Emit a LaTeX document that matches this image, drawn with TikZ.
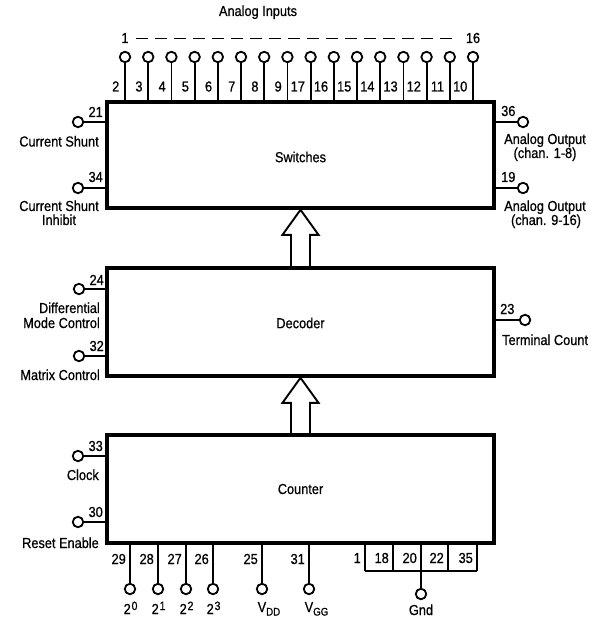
\documentclass[tikz,border=0pt]{standalone}
\usepackage{fontspec}
\setmainfont{Liberation Sans}[FakeStretch=0.88,FakeBold=0.7]
\usetikzlibrary{calc}
\begin{document}
\begin{tikzpicture}[x=1pt,y=-1pt,
  every node/.style={font=\fontsize{14.5}{16}\selectfont, inner sep=0pt},
  blk/.style={draw, line width=3.6pt, minimum width=387pt},
  pin/.style={circle, draw, line width=1.8pt, minimum size=10.5pt, inner sep=0pt},
  wire/.style={line width=1.8pt},
  hollow/.style={line width=1.9pt, line join=miter},
  num/.style={anchor=base east},
  txt/.style={anchor=base},
]
\useasboundingbox (0,0) rectangle (607,620);

% blocks
\node[blk, minimum height=106pt] (sw) at (300.5,155) {};
\node at (300.5,157) {Switches};
\node[blk, minimum height=108pt] (dec) at (300.5,322) {};
\node at (300.5,323) {Decoder};
\node[blk, minimum height=108pt] (cnt) at (300.5,489) {};
\node at (300.5,489) {Counter};

% hollow arrows
\draw[hollow] ($(sw.south)+(-9.5,60)$) -- ($(sw.south)+(-9.5,25)$) -- ($(sw.south)+(-18,25)$)
  -- (sw.south) -- ($(sw.south)+(18,25)$) -- ($(sw.south)+(9.5,25)$) -- ($(sw.south)+(9.5,60)$);
\draw[hollow] ($(dec.south)+(-9.5,59)$) -- ($(dec.south)+(-9.5,25)$) -- ($(dec.south)+(-18,25)$)
  -- (dec.south) -- ($(dec.south)+(18,25)$) -- ($(dec.south)+(9.5,25)$) -- ($(dec.south)+(9.5,59)$);

% analog inputs
\node[txt] (ai) at (258,16) {Analog Inputs};
\node[txt] (one) at (125,43) {1};
\node[txt] (sixteen) at (473,43) {16};
\draw[line width=1.8pt, dash pattern=on 12pt off 7pt] ($(one.base east)+(7,-4.5)$) -- ($(sixteen.base west)+(-7,-4.5)$);
\foreach \n [count=\i from 0] in {2,3,4,5,6,7,8,9,17,16,15,14,13,12,11,10}{
  \pgfmathsetmacro{\xx}{125+23.2*\i}
  \node[pin] (in\i) at (\xx,57) {};
  \draw[wire] (in\i.south) -- (in\i.south |- sw.north);
  \node[num] at (\xx-5.5,91.5) {\n};
}

% switches left
\node[pin] (p21) at (78,122) {};
\draw[wire] (p21.east) -- (p21.east -| sw.west);
\node[num] at (103,117) {21};
\node[txt] at (59,146.5) {Current Shunt};
\node[pin] (p34) at (78,188) {};
\draw[wire] (p34.east) -- (p34.east -| sw.west);
\node[num] at (103,182) {34};
\node[txt] at (59,211) {Current Shunt};
\node[txt] at (59,225) {Inhibit};

% switches right
\node[pin] (p36) at (523,122) {};
\draw[wire] (p36.west) -- (p36.west -| sw.east);
\node[anchor=base west] at (501,116) {36};
\node[txt] at (545,144) {Analog Output};
\node[txt] at (545,158) {(chan. 1-8)};
\node[pin] (p19) at (523,188) {};
\draw[wire] (p19.west) -- (p19.west -| sw.east);
\node[anchor=base west] at (501,182) {19};
\node[txt] at (545,211) {Analog Output};
\node[txt] at (546,225) {(chan. 9-16)};

% decoder left
\node[pin] (p24) at (79,289) {};
\draw[wire] (p24.east) -- (p24.east -| dec.west);
\node[num] at (104,285) {24};
\node[anchor=base east] at (100,313) {Differential};
\node[anchor=base east] at (100,328) {Mode Control};
\node[pin] (p32) at (79,356) {};
\draw[wire] (p32.east) -- (p32.east -| dec.west);
\node[num] at (104,351) {32};
\node[anchor=base east] at (100,380) {Matrix Control};

% decoder right
\node[pin] (p23) at (525,320) {};
\draw[wire] (p23.west) -- (p23.west -| dec.east);
\node[anchor=base west] at (500,314) {23};
\node[anchor=base west] at (502,345) {Terminal Count};

% counter left
\node[pin] (p33) at (78,456) {};
\draw[wire] (p33.east) -- (p33.east -| cnt.west);
\node[num] at (103,451) {33};
\node[anchor=base east] at (99,480) {Clock};
\node[pin] (p30) at (78,522) {};
\draw[wire] (p30.east) -- (p30.east -| cnt.west);
\node[num] at (103,517) {30};
\node[anchor=base east] at (99,548) {Reset Enable};

% counter bottom outputs
\foreach \xx/\n/\s [count=\i] in {130/29/0,158/28/1,186/27/2,213/26/3}{
  \node[pin] (b\i) at (\xx,589) {};
  \draw[wire] (b\i.north) -- (b\i.north |- cnt.south);
  \node[num] at (\xx-4,564) {\n};
  \node[anchor=base west] at (\xx-6.5,614) {2\kern0.8pt\raisebox{4pt}{\fontsize{12}{12}\selectfont\s}};
}
\node[pin] (vdd) at (262,589) {};
\draw[wire] (vdd.north) -- (vdd.north |- cnt.south);
\node[num] at (258,564) {25};
\node[anchor=base west] at (257.5,612) {V\raisebox{-3.5pt}{\fontsize{11}{11}\selectfont DD}};
\node[pin] (vgg) at (309,589) {};
\draw[wire] (vgg.north) -- (vgg.north |- cnt.south);
\node[num] at (305,564) {31};
\node[anchor=base west] at (304.5,612) {V\raisebox{-3.5pt}{\fontsize{11}{11}\selectfont GG}};

% ground group
\foreach \xx/\n [count=\i] in {365/1,393/18,421/20,448/22,477/35}{
  \coordinate (g\i) at (\xx,571);
  \draw[wire] (g\i) -- (g\i |- cnt.south);
  \node[num] at (\xx-4,563) {\n};
}
\draw[wire] (g1) -- (g5);
\node[pin] (gnd) at (421,594) {};
\draw[wire] (g3) -- (gnd.north);
\node[txt] at (421,615) {Gnd};
\end{tikzpicture}
\end{document}
